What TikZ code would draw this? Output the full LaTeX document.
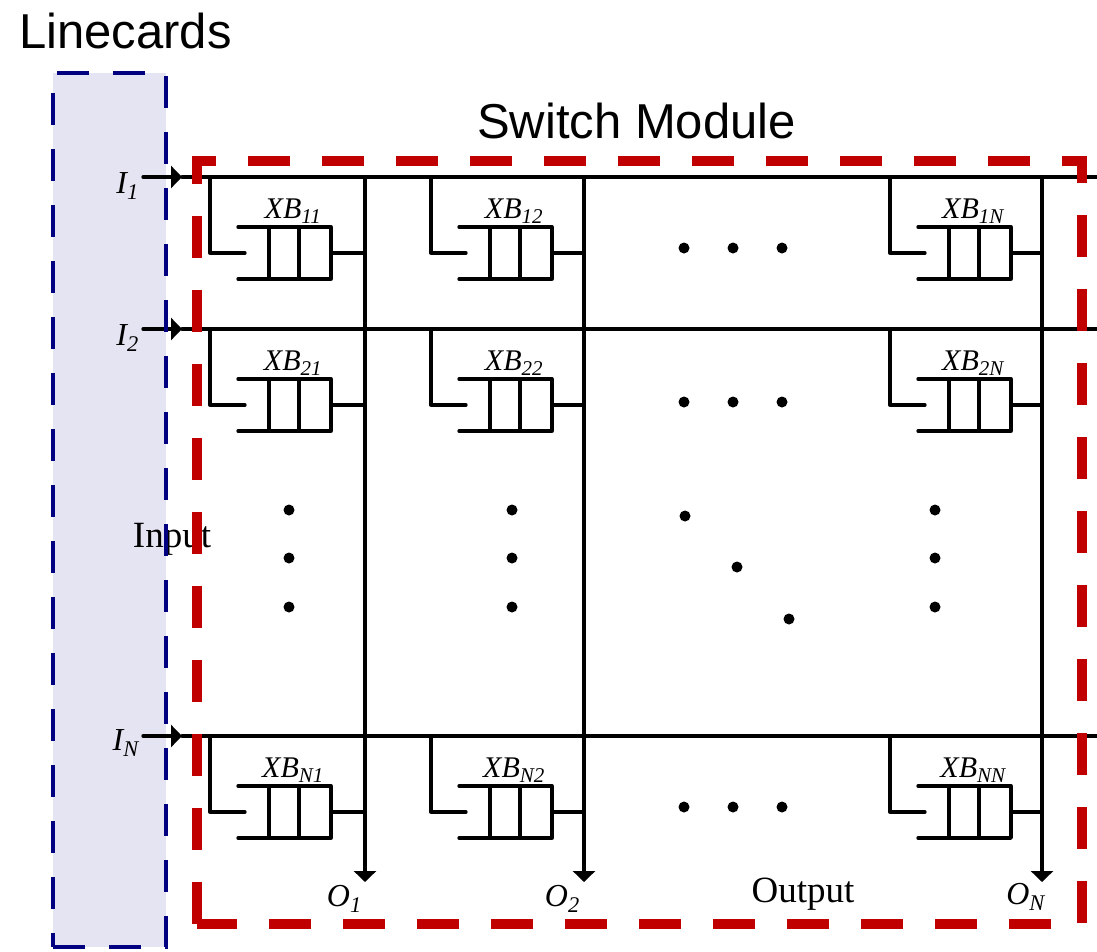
\documentclass[tikz,border=0pt]{standalone}
\usepackage{fontspec}
\setmainfont{Liberation Serif}
\newfontfamily\arialfont{Liberation Sans}
\usetikzlibrary{arrows.meta,positioning}
\definecolor{cardcolor}{RGB}{0,0,128}
\definecolor{cardfill}{RGB}{228,228,242}
\definecolor{modulecolor}{RGB}{192,0,0}

\begin{document}
\begin{tikzpicture}[
	x=1pt,
	y=-1pt,
	>={Triangle[length=11pt,width=22pt]},
	wire/.style={
		draw,
		line width=3.3pt,
		line cap=round,
		line join=round
	},
	port/.style={
		font=\fontsize{32}{38}\selectfont\itshape,
		inner sep=1pt
	},
	xb/.style={
		font=\fontsize{30}{36}\selectfont\itshape,
		inner sep=1pt,
		anchor=base
	},
	word/.style={
		font=\fontsize{37}{44}\selectfont,
		inner sep=1pt,
		anchor=base
	},
	title/.style={
		font=\fontsize{49}{58}\selectfont\arialfont,
		inner sep=1pt
	},
	cardbox/.style={
		fill=cardfill,
		minimum width=113pt,
		minimum height=874pt,
		inner sep=0pt,
		outer sep=0pt
	},
	cardline/.style={
		draw=cardcolor,
		line width=4.5pt,
		dash pattern=on 32pt off 24pt
	},
	modbox/.style={
		minimum width=885pt,
		minimum height=763pt,
		inner sep=0pt,
		outer sep=0pt
	},
	modline/.style={
		draw=modulecolor,
		line width=10pt,
		dash pattern=on 42pt off 32pt
	},
	dot/.style={
		radius=5.5pt
	},
	pics/buffer/.style={
		code={
			\draw[wire] (0,-26) -- (93,-26) -- (93,26) -- (0,26);
			\draw[wire] (31,-26) -- (31,26) (61,-26) -- (61,26);
			\coordinate (-tap) at (-28,-76);
			\coordinate (-in) at (7,0);
			\coordinate (-out) at (93,0);
			\node[xb] (-lbl) at (55,-35) {XB\textsubscript{#1}};
		}
	}
	]
	
	\useasboundingbox (0,0) rectangle (1097,951);
	
	% Linecards (fill only, border drawn on top later)
	\node[cardbox] (cards) at (109.5,510) {};
	
	% Input lines
	\coordinate (in1) at (143,177);
	\coordinate (tip1) at (182,177);
	\coordinate (end1) at (1097,177);
	\coordinate (in2) at (143,329);
	\coordinate (tip2) at (182,329);
	\coordinate (end2) at (1097,329);
	\coordinate (inN) at (143,736);
	\coordinate (tipN) at (182,736);
	\coordinate (endN) at (1097,736);
	\draw[wire,->] (in1) -- (tip1);
	\draw[wire] (tip1) -- (end1);
	\draw[wire,->] (in2) -- (tip2);
	\draw[wire] (tip2) -- (end2);
	\draw[wire,->] (inN) -- (tipN);
	\draw[wire] (tipN) -- (endN);
	\node[port, anchor=base east] (I1) at (140,193) {I\textsubscript{1}};
	\node[port, anchor=base east] (I2) at (140,345) {I\textsubscript{2}};
	\node[port, anchor=base east] (IN) at (140,750) {I\textsubscript{N}};
	
	% Output lines
	\coordinate (top1) at (365,177);
	\coordinate (out1) at (365,882);
	\coordinate (top2) at (584,177);
	\coordinate (out2) at (584,882);
	\coordinate (topN) at (1042,177);
	\coordinate (outN) at (1042,882);
	\draw[wire,->] (top1) -- (out1);
	\draw[wire,->] (top2) -- (out2);
	\draw[wire,->] (topN) -- (outN);
	\node[port, below left=2pt and 2pt of out1] (O1) {O\textsubscript{1}};
	\node[port, below left=2pt and 3pt of out2] (O2) {O\textsubscript{2}};
	\node[port, below left=0pt and -4pt of outN] (ON) {O\textsubscript{N}};
	
	% Crosspoint buffers
	\pic (XB11) at (238,253) {buffer=11};
	\pic (XB12) at (459,253) {buffer=12};
	\pic (XB1N) at (918,253) {buffer=1N};
	\pic (XB21) at (238,405) {buffer=21};
	\pic (XB22) at (459,405) {buffer=22};
	\pic (XB2N) at (918,405) {buffer=2N};
	\pic (XBN1) at (238,812) {buffer=N1};
	\pic (XBN2) at (459,812) {buffer=N2};
	\pic (XBNN) at (918,812) {buffer=NN};
	
	% Buffer connections
	\draw[wire] (XB11-tap) |- (XB11-in);
	\draw[wire] (XB11-out) -- (XB11-out -| top1);
	\draw[wire] (XB12-tap) |- (XB12-in);
	\draw[wire] (XB12-out) -- (XB12-out -| top2);
	\draw[wire] (XB1N-tap) |- (XB1N-in);
	\draw[wire] (XB1N-out) -- (XB1N-out -| topN);
	\draw[wire] (XB21-tap) |- (XB21-in);
	\draw[wire] (XB21-out) -- (XB21-out -| top1);
	\draw[wire] (XB22-tap) |- (XB22-in);
	\draw[wire] (XB22-out) -- (XB22-out -| top2);
	\draw[wire] (XB2N-tap) |- (XB2N-in);
	\draw[wire] (XB2N-out) -- (XB2N-out -| topN);
	\draw[wire] (XBN1-tap) |- (XBN1-in);
	\draw[wire] (XBN1-out) -- (XBN1-out -| top1);
	\draw[wire] (XBN2-tap) |- (XBN2-in);
	\draw[wire] (XBN2-out) -- (XBN2-out -| top2);
	\draw[wire] (XBNN-tap) |- (XBNN-in);
	\draw[wire] (XBNN-out) -- (XBNN-out -| topN);
	
	% Dots
	\fill[dot] (684,248) circle[] (733,248) circle[] (782,248) circle[];
	\fill[dot] (684,402) circle[] (733,402) circle[] (782,402) circle[];
	\fill[dot] (684,807) circle[] (733,807) circle[] (782,807) circle[];
	\fill[dot] (289,510) circle[] (289,558) circle[] (289,607) circle[];
	\fill[dot] (512,510) circle[] (512,558) circle[] (512,607) circle[];
	\fill[dot] (935,510) circle[] (935,558) circle[] (935,607) circle[];
	\fill[dot] (685,516) circle[] (737,567) circle[] (789,619) circle[];
	
	% Labels
	\node[word] (input) at (172,547) {Input};
	\node[word] (output) at (803,902) {Output};
	
	% Dashed borders
	\draw[cardline] (cards.south west) -- (cards.south east) -- (cards.north east) -- (cards.north west) -- cycle;
	\node[title, above=23pt of cards, xshift=16pt] (cards-title) {Linecards};
	\node[modbox] (module) at (639.5,542.5) {};
	\draw[modline] (module.south west) -- (module.north west) -- (module.north east) -- (module.south east) -- cycle;
	\node[title, above=21pt of module, xshift=-3pt] (module-title) {Switch Module};
	
\end{tikzpicture}
\end{document}
